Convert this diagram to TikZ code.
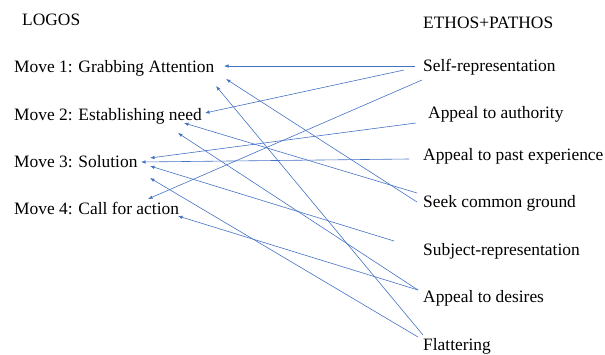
\documentclass[tikz,border=0pt]{standalone}
\usepackage{fontspec}
\setmainfont{Liberation Serif}
\usetikzlibrary{arrows.meta}
\definecolor{linkblue}{RGB}{68,114,196}
\begin{document}
\begin{tikzpicture}[x=1pt,y=-1pt,
  lbl/.style={anchor=base west,inner sep=0pt,font=\fontsize{17.4}{20}\selectfont},
  link/.style={draw=linkblue,line width=0.6pt,-{Latex[length=4.5pt,width=3.5pt]}}]
\useasboundingbox (0,0) rectangle (605,354);
% Left column
\node[lbl] (logos) at (22,25) {LOGOS};
\node[lbl] (move1) at (14,72) {Move 1: Grabbing Attention};
\node[lbl] (move2) at (14,120) {Move 2: Establishing need};
\node[lbl] (move3) at (14,167) {Move 3: Solution};
\node[lbl] (move4) at (14,214) {Move 4: Call for action};
% Right column
\node[lbl] (ethos) at (423,28) {ETHOS+PATHOS};
\node[lbl] (self) at (423,71) {Self-representation};
\node[lbl] (authority) at (428,118) {Appeal to authority};
\node[lbl] (past) at (423,160) {Appeal to past experience};
\node[lbl] (seek) at (423,207) {Seek common ground};
\node[lbl] (subject) at (423,255) {Subject-representation};
\node[lbl] (desires) at (423,302) {Appeal to desires};
\node[lbl] (flatter) at (423,350) {Flattering};
% Arrow tips at the moves
\coordinate (m1a) at (224,66);
\coordinate (m1b) at (226,79);
\coordinate (m1c) at (216,86);
\coordinate (m2a) at (205,113);
\coordinate (m2b) at (184,123);
\coordinate (m2c) at (178,133);
\coordinate (m3a) at (150,158);
\coordinate (m3b) at (141,162);
\coordinate (m3c) at (150,166);
\coordinate (m3d) at (150,178);
\coordinate (m4a) at (148,199);
\coordinate (m4b) at (178,216);
% Line starts at the strategies
\coordinate (self1) at (415,66);
\coordinate (self2) at (404,70);
\coordinate (self3) at (422,80);
\coordinate (auth1) at (416,123);
\coordinate (past1) at (409,159);
\coordinate (seek1) at (417,193);
\coordinate (seek2) at (417,202);
\coordinate (subj1) at (394,241);
\coordinate (des1) at (418,290);
\coordinate (flat1) at (418,337);
\coordinate (flat2) at (423,335);
% Draw links
\draw[link] (self1) -- (m1a);
\draw[link] (self2) -- (m2a);
\draw[link] (self3) -- (m4a);
\draw[link] (auth1) -- (m3a);
\draw[link] (past1) -- (m3b);
\draw[link] (seek1) -- (m2b);
\draw[link] (seek2) -- (m1b);
\draw[link] (subj1) -- (m3c);
\draw[link] (des1) -- (m2c);
\draw[link] (des1) -- (m4b);
\draw[link] (flat1) -- (m3d);
\draw[link] (flat2) -- (m1c);
\end{tikzpicture}
\end{document}
